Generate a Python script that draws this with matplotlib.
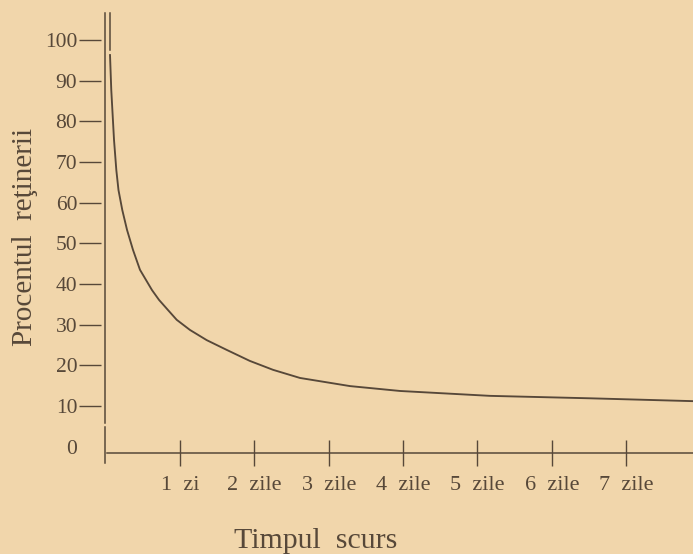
import matplotlib
matplotlib.use("Agg")
import matplotlib.pyplot as plt

# ---- data ----
days = [0.058, 0.075, 0.112, 0.143, 0.172, 0.223, 0.287, 0.367, 0.461, 0.623,
        0.717, 0.838, 0.955, 1.134, 1.359, 1.628, 1.938, 2.251, 2.614, 3.287,
        3.960, 5.170, 6.515, 7.900]
retention = [96.3, 87.7, 75.4, 68.0, 63.1, 58.2, 53.3, 48.4, 43.5, 38.5,
             36.1, 33.6, 31.2, 28.7, 26.2, 23.8, 21.1, 18.9, 16.9, 14.9,
             13.7, 12.5, 11.9, 11.2]
y_ticks = [0, 10, 20, 30, 40, 50, 60, 70, 80, 90, 100]
x_ticks = [1, 2, 3, 4, 5, 6, 7]
x_labels = ["1  zi", "2  zile", "3  zile", "4  zile", "5  zile", "6  zile", "7  zile"]
y_title = "Procentul  reţinerii"
x_title = "Timpul  scurs"

paper = "#F1D6AB"
ink = "#574839"
plt.rcParams['font.family'] = ['Liberation Serif', 'DejaVu Serif']

W, H = 693, 554
fig = plt.figure(figsize=(W / 100, H / 100), dpi=100, facecolor=paper)
ax = fig.add_axes([105.7 / W, 84 / H, (W - 105.7) / W, (470 - 13) / H])
ax.set_facecolor(paper)
ax.set_xlim(0, 7.90)
ax.set_ylim(-5.73, 106.64)

ax.plot(days, retention, color=ink, lw=1.35, solid_joinstyle='round')
# short vertical at start (100% level)
ax.plot([days[0], days[0]], [97.6, 106.64], color=ink, lw=1.1, clip_on=False)

for s in ['top', 'right']:
    ax.spines[s].set_visible(False)
ax.spines['left'].set_visible(False)
ax.spines['left'].set_position(('outward', 3.6))

# visible y axis line
ax.plot([-0.014, -0.014], [5.8, 106.64], color=ink, lw=1.1, clip_on=False)
# x-axis bracket vertical
ax.plot([-0.005, -0.005], [4.8, -4.0], color=ink, lw=1.1, clip_on=False)

ax.spines['bottom'].set_position(('data', -1.55))
ax.spines['bottom'].set_bounds(0.02, 7.90)
ax.spines['bottom'].set_color(ink)
ax.spines['bottom'].set_linewidth(1.1)

ax.set_yticks(y_ticks)
ax.set_yticklabels([str(v) for v in y_ticks])
ax.tick_params(axis='y', direction='out', length=15.8, width=1.0, color=ink,
               pad=1, labelsize=15.5, labelcolor=ink)
ax.yaxis.get_major_ticks()[0].tick1line.set_visible(False)

ax.set_xticks(x_ticks)
ax.set_xticklabels(x_labels)
ax.tick_params(axis='x', direction='inout', length=19.4, width=1.0, color=ink,
               pad=7, labelsize=16, labelcolor=ink)

fig.text(25 / W, 1 - 237 / H, y_title, rotation=90, ha='center', va='center',
         fontsize=21, color=ink)
fig.text(316 / W, 1 - 541 / H, x_title, ha='center', va='center',
         fontsize=21.5, color=ink)

fig.savefig("out.png", dpi=100, facecolor=paper)
